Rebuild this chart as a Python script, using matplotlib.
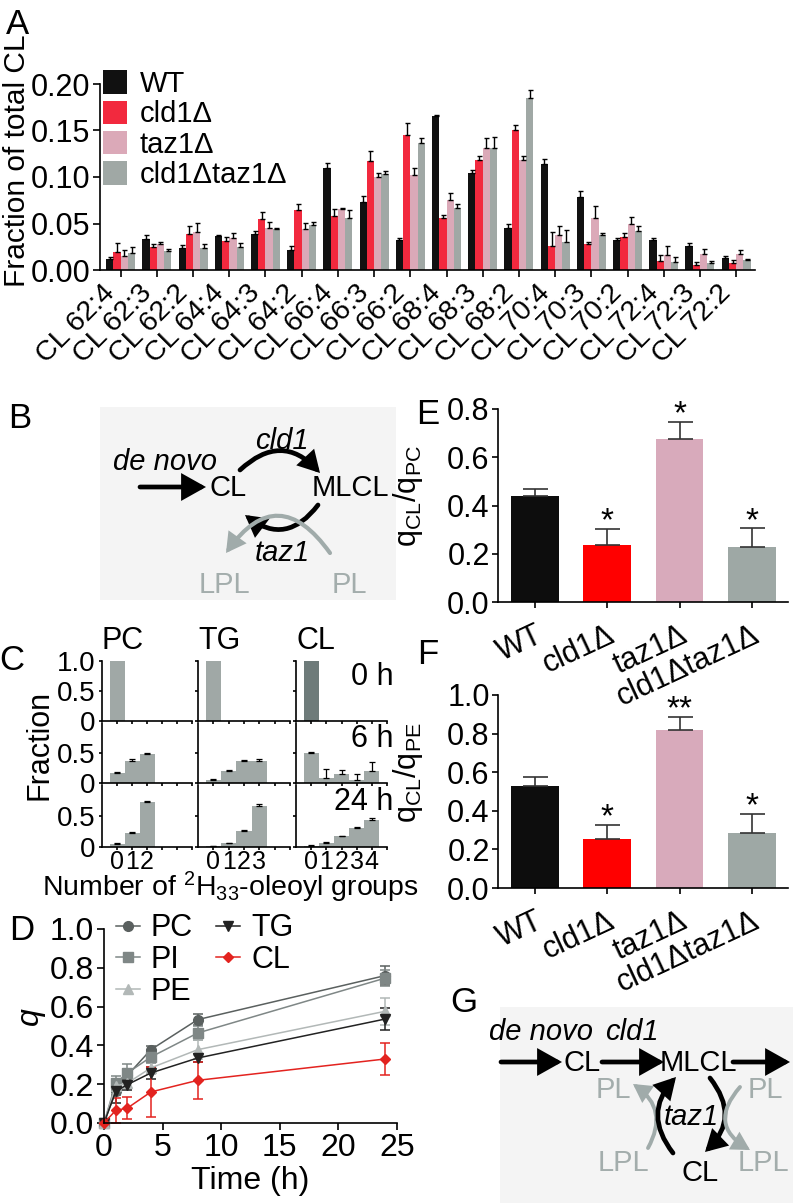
import numpy as np
import matplotlib
matplotlib.use("Agg")
import matplotlib.pyplot as plt
from matplotlib.patches import FancyArrowPatch, Rectangle
from matplotlib.lines import Line2D

plt.rcParams['font.family'] = ['Liberation Sans', 'DejaVu Sans']
plt.rcParams['mathtext.fontset'] = 'custom'
plt.rcParams['mathtext.rm'] = 'Liberation Sans'
plt.rcParams['mathtext.it'] = 'Liberation Sans:italic'
plt.rcParams['axes.facecolor'] = 'none'

# Panel A: CL species distribution
cl_species = ["CL 62:4", "CL 62:3", "CL 62:2", "CL 64:4", "CL 64:3", "CL 64:2",
              "CL 66:4", "CL 66:3", "CL 66:2", "CL 68:4", "CL 68:3", "CL 68:2",
              "CL 70:4", "CL 70:3", "CL 70:2", "CL 72:4", "CL 72:3", "CL 72:2"]
strains = ["WT", "cld1Δ", "taz1Δ", "cld1Δtaz1Δ"]
wt_frac = [0.0115, 0.0333, 0.024, 0.0366, 0.039, 0.022, 0.1097, 0.0735, 0.0319,
           0.1656, 0.1047, 0.0455, 0.1136, 0.0789, 0.0323, 0.0323, 0.026, 0.0133]
wt_err = [0.003, 0.004, 0.003, 0.001, 0.003, 0.004, 0.005, 0.0065, 0.0025,
          0.001, 0.0025, 0.004, 0.0055, 0.0065, 0.002, 0.0025, 0.0027, 0.0017]
cld1_frac = [0.019, 0.025, 0.039, 0.0315, 0.055, 0.065, 0.058, 0.117, 0.1455,
             0.0563, 0.118, 0.1505, 0.0258, 0.0276, 0.0358, 0.0093, 0.0054, 0.0079]
cld1_err = [0.010, 0.003, 0.008, 0.0035, 0.007, 0.0056, 0.008, 0.011, 0.0125,
            0.0032, 0.005, 0.0051, 0.0154, 0.0024, 0.0036, 0.0065, 0.0028, 0.0025]
taz1_frac = [0.015, 0.0276, 0.0405, 0.034, 0.0455, 0.0437, 0.066, 0.100, 0.1018,
             0.075, 0.131, 0.118, 0.0376, 0.056, 0.050, 0.016, 0.0168, 0.0168]
taz1_err = [0.007, 0.0024, 0.0105, 0.006, 0.0065, 0.0073, 0.001, 0.0047, 0.0082,
            0.008, 0.011, 0.005, 0.0094, 0.0128, 0.0073, 0.010, 0.0062, 0.0051]
dbl_frac = [0.018, 0.0204, 0.024, 0.0247, 0.0437, 0.048, 0.0556, 0.103, 0.137,
            0.067, 0.131, 0.185, 0.0297, 0.038, 0.0423, 0.0082, 0.0075, 0.0108]
dbl_err = [0.007, 0.0026, 0.0036, 0.004, 0.0013, 0.004, 0.0094, 0.0035, 0.005,
           0.004, 0.012, 0.0085, 0.013, 0.0018, 0.005, 0.0058, 0.0018, 0.0014]
colors_a = ["#111111", "#f2293e", "#dba9b8", "#a0a8a5"]

# Panel C: isotopologue fractions (0 h, 6 h, 24 h)
c_lipids = ["PC", "TG", "CL"]
c_times = ["0 h", "6 h", "24 h"]
pc_0h, tg_0h, cl_0h = [1.0], [1.0], [1.0]
pc_6h = [0.163, 0.372, 0.488]
pc_6h_err = [0.023, 0.023, 0.012]
tg_6h = [0.052, 0.198, 0.372, 0.372]
tg_6h_err = [0.018, 0.012, 0.012, 0.023]
cl_6h = [0.5, 0.076, 0.145, 0.058, 0.198]
cl_6h_err = [0.017, 0.157, 0.076, 0.099, 0.151]
pc_24h = [0.05, 0.22, 0.72]
pc_24h_err = [0.01, 0.025, 0.03]
tg_24h = [0.01, 0.06, 0.26, 0.665]
tg_24h_err = [0.005, 0.01, 0.01, 0.025]
cl_24h = [0.02, 0.07, 0.17, 0.30, 0.44]
cl_24h_err = [0.02, 0.01, 0.01, 0.03, 0.035]

# Panel D: labelling kinetics
time_h = [0, 1, 2, 4, 8, 24]
q_pc = [0, 0.163, 0.246, 0.378, 0.533, 0.76]
q_pc_err = [0, 0.02, 0.03, 0.02, 0.03, 0.05]
q_pi = [0, 0.206, 0.258, 0.34, 0.464, 0.747]
q_pi_err = [0, 0.035, 0.045, 0.03, 0.035, 0.04]
q_pe = [0, 0.19, 0.206, 0.284, 0.378, 0.576]
q_pe_err = [0, 0.03, 0.03, 0.03, 0.05, 0.07]
q_tg = [0, 0.163, 0.198, 0.258, 0.335, 0.536]
q_tg_err = [0, 0.06, 0.03, 0.03, 0.02, 0.055]
q_cl = [0, 0.065, 0.077, 0.16, 0.22, 0.33]
q_cl_err = [0, 0.065, 0.057, 0.13, 0.094, 0.08]

# Panels E and F: ratios
ratio_pc = [0.441, 0.237, 0.675, 0.227]
ratio_pc_err = [0.029, 0.065, 0.072, 0.078]
ratio_pc_sig = ["", "*", "*", "*"]
ratio_pe = [0.529, 0.255, 0.819, 0.286]
ratio_pe_err = [0.045, 0.07, 0.066, 0.098]
ratio_pe_sig = ["", "*", "**", "*"]
colors_ef = ["#0d0d0d", "#ff0000", "#d8aabb", "#9ea8a5"]

W, H = 793, 1203
fig = plt.figure(figsize=(W / 100, H / 100), dpi=100)


def rect(x0, y0, x1, y1):
    return [x0 / W, 1 - y1 / H, (x1 - x0) / W, (y1 - y0) / H]


def clean(ax, fs=21, tl=5):
    for s in ["top", "right"]:
        ax.spines[s].set_visible(False)
    for s in ["left", "bottom"]:
        ax.spines[s].set_linewidth(1.2)
    ax.tick_params(labelsize=fs, length=tl, width=1.2, direction="out", pad=2)


def letter(x, y, s):
    fig.text(x / W, 1 - y / H, s, fontsize=25, ha="center", va="center")


# overlay for schematic panels
dax = fig.add_axes([0, 0, 1, 1])
dax.set_xlim(0, W)
dax.set_ylim(H, 0)
dax.axis("off")

gray_txt = "#a3adac"
gray_arr = "#a0abaa"


def arrow(p0, p1, rad=0.0, color="k", lw=3.4, hl=0.75, hw=0.42, ms=17):
    a = FancyArrowPatch(p0, p1, connectionstyle="arc3,rad=%g" % rad,
                        arrowstyle="-|>,head_length=%g,head_width=%g" % (hl, hw),
                        mutation_scale=ms, lw=lw, color=color,
                        shrinkA=0, shrinkB=0, joinstyle="miter")
    dax.add_patch(a)


def label(x, y, s, color="k", style="normal", fs=21, ha="center"):
    dax.text(x, y, s, color=color, style=style, fontsize=fs, ha=ha, va="center")


# ---- A ----
axA = fig.add_axes(rect(100, 84, 755, 270))
x = np.arange(len(cl_species))
bw = 0.2
series_a = [(wt_frac, wt_err), (cld1_frac, cld1_err), (taz1_frac, taz1_err), (dbl_frac, dbl_err)]
for i, ((vals, errs), col, name) in enumerate(zip(series_a, colors_a, strains)):
    pos = x + (i - 1.5) * bw
    axA.bar(pos, vals, bw, color=col, label=name)
    axA.errorbar(pos, vals, yerr=[np.zeros(len(vals)), errs], fmt="none",
                 ecolor="k", elinewidth=1, capsize=1.8, capthick=1)
axA.set_xlim(-0.57, 17.52)
axA.set_ylim(0, 0.2)
axA.set_yticks(np.arange(0, 0.201, 0.05))
axA.set_yticklabels(["%.2f" % v for v in np.arange(0, 0.201, 0.05)])
axA.set_xticks(x)
axA.set_xticklabels(cl_species, rotation=45, ha="right")
clean(axA, fs=22)
axA.tick_params(axis="x", labelsize=20.5)
axA.set_ylabel("Fraction of total CL", fontsize=21.5)
axA.yaxis.set_label_coords(-0.106, 0.585)
axA.legend(loc="upper left", bbox_to_anchor=(0.005, 1.075), frameon=False, fontsize=21,
           handlelength=0.8, handleheight=0.85, handletextpad=0.45, labelspacing=0.08,
           borderaxespad=0, borderpad=0)
letter(18, 24, "A")

# ---- B ----
letter(20, 418, "B")
dax.add_patch(Rectangle((100, 407), 296, 193, color="#f4f4f4", lw=0))
label(165, 462, "de novo", style="italic")
arrow((140, 487), (206, 487))
label(228, 488, "CL")
label(350, 488, "MLCL")
arrow((240, 470), (320, 473), rad=-0.5, ms=14)
label(282, 441, "cld1", style="italic")
arrow((318, 505), (245, 515), rad=-0.5, ms=14)
arrow((330, 553), (226, 553), rad=0.7, color=gray_arr, lw=3, ms=13)
label(282, 553, "taz1", style="italic")
label(224, 585, "LPL", color=gray_txt)
label(349, 585, "PL", color=gray_txt)

# ---- C ----
letter(12, 660, "C")
col_x = [(102, 192), (198, 290), (296, 387)]
row_y = [(661, 721), (723, 783), (785, 847)]
c_data = [[(pc_0h, None), (tg_0h, None), (cl_0h, None)],
          [(pc_6h, pc_6h_err), (tg_6h, tg_6h_err), (cl_6h, cl_6h_err)],
          [(pc_24h, pc_24h_err), (tg_24h, tg_24h_err), (cl_24h, cl_24h_err)]]
for r in range(3):
    for c in range(3):
        ax = fig.add_axes(rect(col_x[c][0], row_y[r][0], col_x[c][1], row_y[r][1]))
        vals, errs = c_data[r][c]
        n = len(vals)
        col = "#6e7b7a" if (r == 0 and c == 2) else "#a0a8a6"
        ax.bar(np.arange(n), vals, 1.0, color=col)
        if errs is not None:
            ax.errorbar(np.arange(n), vals, yerr=[np.zeros(n), errs], fmt="none",
                        ecolor="k", elinewidth=0.9, capsize=2.2, capthick=0.9)
        ax.set_xlim(-1, 5)
        ax.set_ylim(0, 1.0)
        clean(ax, fs=20, tl=2.5)
        ax.set_xticks(np.arange(6))
        if r == 2:
            ax.set_xticklabels([str(k) if k < len(c_data[2][c][0]) else "" for k in range(6)],
                               fontsize=18)
        else:
            ax.set_xticklabels([])
        if r == 0:
            ax.set_yticks([0, 0.5, 1.0])
            ylabs = ["0", "0.5", "1.0"]
        else:
            ax.set_yticks([0, 0.5])
            ylabs = ["0", "0.5"]
        ax.set_yticklabels(ylabs if c == 0 else [])
        ax.tick_params(axis="x", pad=0)
        if r == 0:
            ax.text(0.0, 1.08, c_lipids[c], transform=ax.transAxes, fontsize=22,
                    ha="left", va="bottom")
        if c == 2:
            ax.text(1.07, 0.73, c_times[r], transform=ax.transAxes, fontsize=22,
                    ha="right", va="center")
fig.text(40 / W, 1 - 745 / H, "Fraction", rotation=90, fontsize=22, ha="center", va="center")
fig.text(230 / W, 1 - 887 / H, r"Number of $^{2}$H$_{33}$-oleoyl groups", fontsize=20.5,
         ha="center", va="center")

# ---- D ----
letter(22, 930, "D")
axD = fig.add_axes(rect(104, 929, 397, 1123))
d_series = [("PC", q_pc, q_pc_err, "#5a605f", "o"),
            ("PI", q_pi, q_pi_err, "#7f8786", "s"),
            ("PE", q_pe, q_pe_err, "#b2b8b7", "^"),
            ("TG", q_tg, q_tg_err, "#222222", "v"),
            ("CL", q_cl, q_cl_err, "#e3231f", "D")]
handles = []
for name, vals, errs, col, mk in d_series:
    ms = 5 if mk == "D" else 7
    axD.errorbar(time_h, vals, yerr=errs, color=col, marker=mk, ms=ms, lw=1.1,
                 elinewidth=1.1, capsize=3.5, capthick=1.1, clip_on=False)
    handles.append(Line2D([], [], color=col, marker=mk, ms=ms, lw=1.1, label=name))
axD.set_xlim(0, 25)
axD.set_ylim(0, 1.0)
axD.set_xticks(np.arange(0, 26, 5))
axD.set_yticks(np.arange(0, 1.01, 0.2))
axD.set_yticklabels(["%.1f" % v for v in np.arange(0, 1.01, 0.2)])
clean(axD, fs=23)
axD.set_ylabel("q", style="italic", fontsize=23)
axD.yaxis.set_label_coords(-0.2, 0.55)
axD.set_xlabel("Time (h)", fontsize=23, labelpad=2)
axD.legend(handles=handles, loc="upper left", bbox_to_anchor=(0.04, 1.08), ncol=2,
           frameon=False, fontsize=22, handlelength=0.8, handletextpad=0.35,
           labelspacing=0.05, columnspacing=0.75, borderaxespad=0, borderpad=0)

# ---- E and F ----
def ratio_panel(y0, y1, vals, errs, sig, ymax, ylab, lab_y):
    ax = fig.add_axes(rect(498, y0, 788, y1))
    pos = np.arange(len(vals))
    ax.bar(pos, vals, 0.66, color=colors_ef)
    ax.errorbar(pos, vals, yerr=[np.zeros(len(vals)), errs], fmt="none", ecolor="#333333",
                elinewidth=1.2, capsize=9, capthick=1.2)
    for p, v, e, s in zip(pos, vals, errs, sig):
        if s:
            ax.annotate(s, (p, v + e), xytext=(0, -1), textcoords="offset points",
                        ha="center", va="baseline", fontsize=24)
    ax.set_xlim(-0.51, 3.5)
    ax.set_ylim(0, ymax)
    ticks = np.arange(0, ymax + 0.001, 0.2)
    ax.set_yticks(ticks)
    ax.set_yticklabels(["%.1f" % t for t in ticks])
    ax.set_xticks(pos)
    ax.set_xticklabels(strains, rotation=25, ha="right", va="top", rotation_mode="anchor")
    clean(ax, fs=22, tl=4)
    ax.tick_params(axis="x", labelsize=22, pad=9)
    ax.set_ylabel(ylab, fontsize=22)
    ax.yaxis.set_label_coords(-0.25, lab_y)
    return ax


letter(428, 415, "E")
ratio_panel(409, 602, ratio_pc, ratio_pc_err, ratio_pc_sig, 0.8,
            r"q$_\mathrm{CL}$/q$_\mathrm{PC}$", 0.55)
letter(428, 654, "F")
ratio_panel(695, 888, ratio_pe, ratio_pe_err, ratio_pe_sig, 1.0,
            r"q$_\mathrm{CL}$/q$_\mathrm{PE}$", 0.6)

# ---- G ----
letter(464, 1002, "G")
dax.add_patch(Rectangle((500, 1007), 293, 196, color="#f4f4f4", lw=0))
label(541, 1032, "de novo", style="italic")
label(632, 1032, "cld1", style="italic")
arrow((501, 1062), (562, 1062))
label(582, 1063, "CL")
arrow((602, 1062), (664, 1062))
label(698, 1063, "MLCL")
arrow((733, 1062), (790, 1062))
arrow((648, 1148), (633, 1084), rad=0.45, color=gray_arr, lw=2.8, ms=12)
arrow((673, 1153), (676, 1077), rad=-0.42, ms=14)
arrow((710, 1078), (705, 1152), rad=-0.45, ms=14)
arrow((740, 1087), (750, 1150), rad=0.6, color=gray_arr, lw=2.8, ms=12)
label(613, 1090, "PL", color=gray_txt)
label(765, 1090, "PL", color=gray_txt)
label(691, 1117, "taz1", style="italic")
label(623, 1163, "LPL", color=gray_txt)
label(700, 1173, "CL")
label(763, 1163, "LPL", color=gray_txt)

fig.savefig("out.png", dpi=100, facecolor="white")
